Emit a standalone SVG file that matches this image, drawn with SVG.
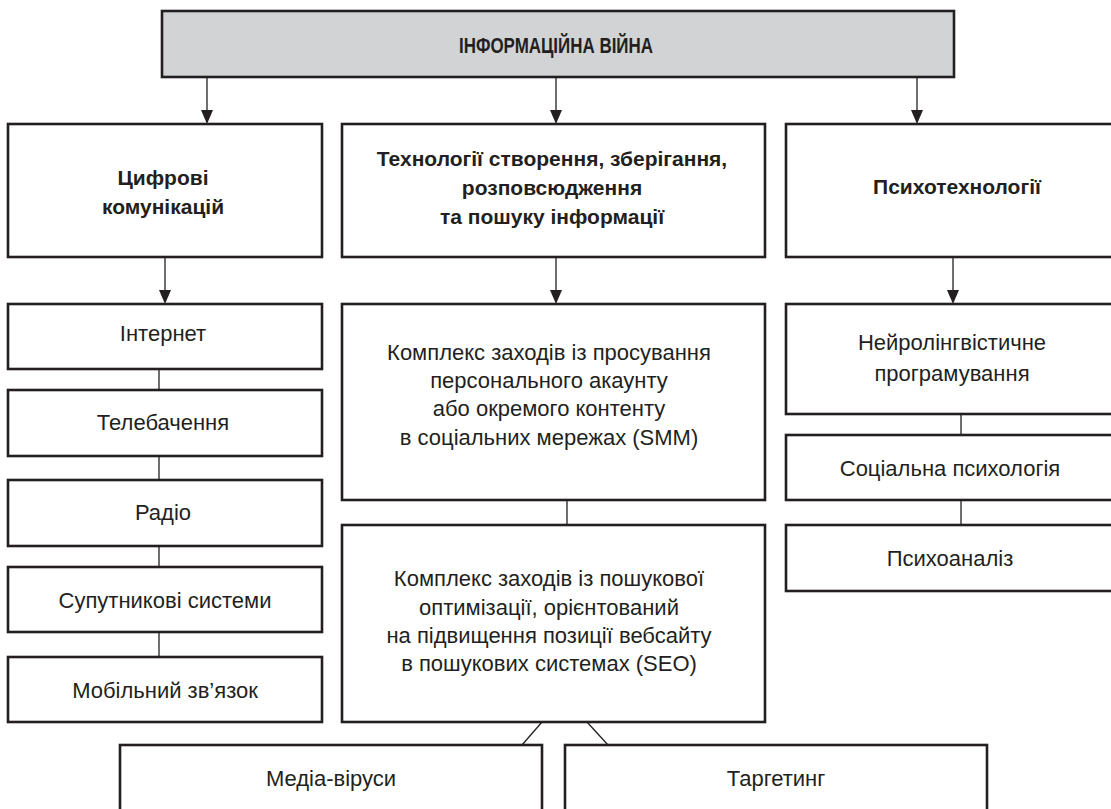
<svg xmlns="http://www.w3.org/2000/svg" width="1111" height="809" viewBox="0 0 1111 809">
<style>
  .box { fill: #ffffff; stroke: #231f20; stroke-width: 2.6; }
  .main { fill: #d1d3d4; stroke: #231f20; stroke-width: 2.6; }
  .t { font-family: "Liberation Sans", Arial, sans-serif; font-size: 22px; fill: #231f20; text-anchor: middle; }
  .b { font-family: "Liberation Sans", Arial, sans-serif; font-size: 21px; font-weight: bold; fill: #231f20; text-anchor: middle; }
  .h { font-family: "Liberation Sans", Arial, sans-serif; font-size: 22px; font-weight: bold; fill: #231f20; text-anchor: middle; }
  .c { fill: none; stroke: #231f20; stroke-width: 1.3; }
  .ah { fill: #231f20; }
</style>
<rect width="1111" height="809" fill="#ffffff"/>

<g id="connectors">
  <line class="c" x1="207" y1="78" x2="207" y2="110"/>
  <path class="ah" d="M201,110 L213,110 L207,124 Z"/>
  <line class="c" x1="556" y1="78" x2="556" y2="110"/>
  <path class="ah" d="M550,110 L562,110 L556,124 Z"/>
  <line class="c" x1="917" y1="78" x2="917" y2="110"/>
  <path class="ah" d="M911,110 L923,110 L917,124 Z"/>

  <line class="c" x1="165" y1="258" x2="165" y2="290"/>
  <path class="ah" d="M159,290 L171,290 L165,304 Z"/>
  <line class="c" x1="556" y1="258" x2="556" y2="290"/>
  <path class="ah" d="M550,290 L562,290 L556,304 Z"/>
  <line class="c" x1="953" y1="258" x2="953" y2="290"/>
  <path class="ah" d="M947,290 L959,290 L953,304 Z"/>

  <line class="c" x1="159" y1="369" x2="159" y2="390"/>
  <line class="c" x1="159" y1="456" x2="159" y2="480"/>
  <line class="c" x1="159" y1="546" x2="159" y2="567"/>
  <line class="c" x1="159" y1="632" x2="159" y2="657"/>

  <line class="c" x1="567" y1="500" x2="567" y2="525"/>
  <line class="c" x1="961" y1="414" x2="961" y2="435"/>
  <line class="c" x1="961" y1="500" x2="961" y2="525"/>

  <line class="c" x1="542" y1="722" x2="522" y2="745"/>
  <line class="c" x1="587" y1="722" x2="608" y2="745"/>
</g>

<g id="n-main">
  <rect class="main" x="162" y="11" width="792" height="66"/>
  <text class="h" x="556" y="53" textLength="194" lengthAdjust="spacingAndGlyphs">ІНФОРМАЦІЙНА ВІЙНА</text>
</g>

<g id="n-digital">
  <rect class="box" x="8" y="124" width="314" height="133"/>
  <text class="b" x="163" y="185">Цифрові</text>
  <text class="b" x="163" y="214">комунікацій</text>
</g>

<g id="n-tech">
  <rect class="box" x="342" y="124" width="423" height="133"/>
  <text class="b" x="552" y="166">Технології створення, зберігання,</text>
  <text class="b" x="552" y="195">розповсюдження</text>
  <text class="b" x="552" y="224">та пошуку інформації</text>
</g>

<g id="n-psych">
  <rect class="box" x="786" y="124" width="342" height="133"/>
  <text class="b" x="957" y="194">Психотехнології</text>
</g>

<g id="n-internet">
  <rect class="box" x="8" y="304" width="314" height="65"/>
  <text class="t" x="163" y="341">Інтернет</text>
</g>
<g id="n-tv">
  <rect class="box" x="8" y="390" width="314" height="66"/>
  <text class="t" x="163" y="430">Телебачення</text>
</g>
<g id="n-radio">
  <rect class="box" x="8" y="480" width="314" height="66"/>
  <text class="t" x="163" y="520">Радіо</text>
</g>
<g id="n-sat">
  <rect class="box" x="8" y="567" width="314" height="65"/>
  <text class="t" x="165" y="608">Супутникові системи</text>
</g>
<g id="n-mobile">
  <rect class="box" x="8" y="657" width="314" height="65"/>
  <text class="t" x="165" y="698">Мобільний зв’язок</text>
</g>

<g id="n-smm">
  <rect class="box" x="342" y="304" width="423" height="196"/>
  <text class="t" x="549" y="360">Комплекс заходів із просування</text>
  <text class="t" x="549" y="388">персонального акаунту</text>
  <text class="t" x="549" y="416">або окремого контенту</text>
  <text class="t" x="549" y="445">в соціальних мережах (SMM)</text>
</g>

<g id="n-seo">
  <rect class="box" x="342" y="525" width="423" height="197"/>
  <text class="t" x="549" y="586">Комплекс заходів із пошукової</text>
  <text class="t" x="549" y="615">оптимізації, орієнтований</text>
  <text class="t" x="549" y="643">на підвищення позиції вебсайту</text>
  <text class="t" x="549" y="671">в пошукових системах (SEO)</text>
</g>

<g id="n-nlp">
  <rect class="box" x="786" y="304" width="342" height="110"/>
  <text class="t" x="952" y="350">Нейролінгвістичне</text>
  <text class="t" x="952" y="381">програмування</text>
</g>
<g id="n-socpsy">
  <rect class="box" x="786" y="435" width="342" height="65"/>
  <text class="t" x="950" y="476">Соціальна психологія</text>
</g>
<g id="n-psychoanalysis">
  <rect class="box" x="786" y="525" width="342" height="66"/>
  <text class="t" x="950" y="566">Психоаналіз</text>
</g>

<g id="n-media">
  <rect class="box" x="120" y="745" width="422" height="80"/>
  <text class="t" x="331" y="786">Медіа-віруси</text>
</g>
<g id="n-target">
  <rect class="box" x="565" y="745" width="422" height="80"/>
  <text class="t" x="776" y="786">Таргетинг</text>
</g>
</svg>
